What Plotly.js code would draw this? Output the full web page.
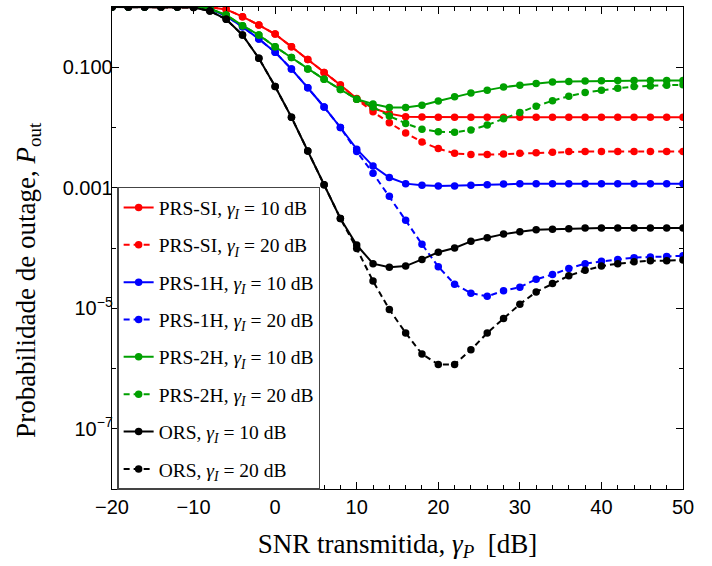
<!DOCTYPE html>
<html><head><meta charset="utf-8">
<script src="https://cdn.plot.ly/plotly-3.0.1.min.js"></script>
<style>body{margin:0;background:#fff}</style></head>
<body><div id="chart" style="width:712px;height:566px"></div>
<script>
var snr = [-20,-18,-16,-14,-12,-10,-8,-6,-4,-2,0,2,4,6,8,10,12,14,16,18,20,22,24,26,28,30,32,34,36,38,40,42,44,46,48,50];

var prsSI_10 = [1,1,1,1,1,1,0.989,0.912,0.692,0.501,0.355,0.219,0.135,0.0822,0.0507,0.0302,0.0209,0.0170,0.0151,0.0149,0.0148,0.0148,0.0148,0.0148,0.0148,0.0148,0.0148,0.0148,0.0148,0.0148,0.0148,0.0148,0.0148,0.0148,0.0148,0.0148];
var prsSI_20 = [1,1,1,1,1,1,0.989,0.912,0.692,0.501,0.355,0.219,0.135,0.0822,0.0507,0.0295,0.0182,0.0120,0.00813,0.00575,0.00447,0.00372,0.00355,0.00355,0.00363,0.00372,0.00380,0.00389,0.00398,0.00398,0.00398,0.00398,0.00398,0.00398,0.00398,0.00398];
var prs1H_10 = [1,1,1,1,1,1,0.933,0.708,0.468,0.295,0.178,0.0933,0.0457,0.0219,0.0100,0.00437,0.00229,0.00148,0.00117,0.00110,0.00107,0.00107,0.00110,0.00112,0.00115,0.00116,0.00117,0.00117,0.00117,0.00117,0.00117,0.00117,0.00117,0.00117,0.00117,0.00117];
var prs1H_20 = [1,1,1,1,1,1,0.933,0.708,0.468,0.295,0.178,0.0933,0.0457,0.0219,0.0100,0.00398,0.00174,0.000724,0.000288,0.000115,4.9e-5,2.51e-5,1.78e-5,1.58e-5,1.95e-5,2.24e-5,3.02e-5,3.63e-5,4.57e-5,5.5e-5,6.03e-5,6.46e-5,6.92e-5,7.08e-5,7.24e-5,7.41e-5];
var prs2H_10 = [1,1,1,1,1,1,0.933,0.736,0.490,0.343,0.219,0.145,0.0933,0.0631,0.0427,0.0295,0.0245,0.0214,0.0214,0.0234,0.0275,0.0324,0.0372,0.0417,0.0468,0.0501,0.0537,0.0568,0.0582,0.0589,0.0597,0.0605,0.0605,0.0605,0.0605,0.0605];
var prs2H_20 = [1,1,1,1,1,1,0.933,0.736,0.490,0.343,0.219,0.145,0.0933,0.0631,0.0427,0.0295,0.0219,0.0155,0.0117,0.00933,0.00851,0.00832,0.00912,0.01096,0.01396,0.0178,0.0226,0.0278,0.0331,0.0380,0.0417,0.0447,0.0479,0.0490,0.0501,0.0513];
var ors_10 = [1,1,1,1,1,0.977,0.859,0.624,0.343,0.141,0.0479,0.0148,0.00407,0.00112,0.000309,0.000112,5.5e-5,4.79e-5,5.01e-5,6.46e-5,8.51e-5,1.0e-4,1.29e-4,1.48e-4,1.70e-4,1.86e-4,2.0e-4,2.04e-4,2.09e-4,2.14e-4,2.14e-4,2.14e-4,2.14e-4,2.14e-4,2.14e-4,2.14e-4];
var ors_20 = [1,1,1,1,1,0.977,0.859,0.624,0.343,0.141,0.0479,0.0148,0.00407,0.00112,0.000309,9.77e-5,2.82e-5,9.55e-6,3.89e-6,1.74e-6,1.17e-6,1.17e-6,2.04e-6,3.89e-6,6.76e-6,1.17e-5,1.86e-5,2.57e-5,3.47e-5,4.27e-5,5.01e-5,5.5e-5,5.89e-5,6.17e-5,6.17e-5,6.31e-5];

var names = ["PRS-SI, <i>γ<sub>I</sub></i> = 10 dB","PRS-SI, <i>γ<sub>I</sub></i> = 20 dB","PRS-1H, <i>γ<sub>I</sub></i> = 10 dB","PRS-1H, <i>γ<sub>I</sub></i> = 20 dB","PRS-2H, <i>γ<sub>I</sub></i> = 10 dB","PRS-2H, <i>γ<sub>I</sub></i> = 20 dB","ORS, <i>γ<sub>I</sub></i> = 10 dB","ORS, <i>γ<sub>I</sub></i> = 20 dB"];
var series = [prsSI_10, prsSI_20, prs1H_10, prs1H_20, prs2H_10, prs2H_20, ors_10, ors_20];
var colors = ["#ff0000","#ff0000","#0000ff","#0000ff","#00a000","#00a000","#000000","#000000"];
var dashes = ["solid","dash","solid","dash","solid","dash","solid","dash"];

var xTickVals = [-20,-10,0,10,20,30,40,50];
var yTickVals = [0.1, 0.001, 1e-5, 1e-7];
var yTickText = ["0.100","0.001","10<sup>−5</sup>","10<sup>−7</sup>"];
var yMinorVals = [1, 0.01, 1e-4, 1e-6, 1e-8];
var yTitle = 'Probabilidade de outage, <i>P</i><sub>out</sub>';
var xTitle = 'SNR transmitida, <i>γ<sub>P</sub></i>  [dB]';

var SERIF = '"Liberation Serif", "Times New Roman", Times, serif';
var SANS = '"Liberation Sans", Arial, Helvetica, sans-serif';

var traces = series.map(function(s,i){
  return {x: snr, y: s, type:'scatter', mode:'lines+markers', name: names[i], legendgroup:'g'+i,
    line:{color:colors[i], width:2, dash: dashes[i]==='dash' ? '6px,4px' : 'solid'},
    marker:{color:colors[i], size:7.5}};
});

var layout = {
  width:712, height:566,
  margin:{l:112, r:29, t:7, b:77},
  paper_bgcolor:'#fff', plot_bgcolor:'#fff',
  showlegend:true,
  legend:{x:0.009, y:0.627, xanchor:'left', yanchor:'top', bgcolor:'#fff', bordercolor:'#444', borderwidth:1.5,
    font:{family:SERIF, size:19.5, color:'#000'}, traceorder:'grouped', tracegroupgap:9, itemwidth:30},
  xaxis:{range:[-20,50], tickvals:xTickVals, ticks:'inside', ticklen:7, tickwidth:1, tickcolor:'#000',
    minor:{dtick:2, ticks:'inside', ticklen:4, tickcolor:'#000'},
    mirror:'ticks', showline:true, linecolor:'#000', linewidth:1.3, showgrid:false, zeroline:false,
    tickfont:{family:SANS, size:20, color:'#000'},
    title:{text:xTitle, font:{family:SERIF, size:27, color:'#000'}, standoff:16}},
  yaxis:{type:'log', range:[-8,0], tickvals:yTickVals, ticktext:yTickText, ticks:'inside', ticklen:7, tickwidth:1, tickcolor:'#000',
    minor:{tickmode:'array', tickvals:yMinorVals, ticks:'inside', ticklen:4, tickcolor:'#000'},
    mirror:'ticks', showline:true, linecolor:'#000', linewidth:1.3, showgrid:false, zeroline:false,
    ticklabelstandoff:-6,
    tickfont:{family:SANS, size:20, color:'#000'}},
  annotations:[{text:yTitle, textangle:-90, xref:'paper', yref:'paper', x:-0.147, y:0.434, xanchor:'center', yanchor:'middle',
    showarrow:false, font:{family:SERIF, size:27, color:'#000'}}]
};
Plotly.newPlot('chart', traces, layout, {displayModeBar:false, staticPlot:true});
</script></body></html>
